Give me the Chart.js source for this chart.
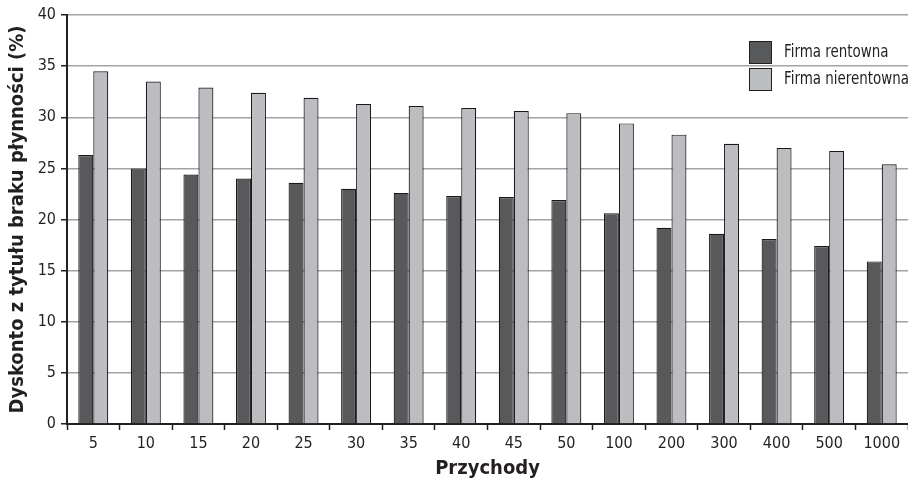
<!DOCTYPE html>
<html>
<head>
<meta charset="utf-8">
<script src="https://cdn.jsdelivr.net/npm/chart.js@4.4.1/dist/chart.umd.min.js"></script>
<style>
  html, body { margin: 0; padding: 0; background: #fff; }
  #wrap { width: 908px; height: 485px; }
</style>
</head>
<body>
<div id="wrap"><canvas id="myBarChart" width="908" height="485"></canvas></div>
<script>
var FONT = '"Liberation Sans Narrow", "DejaVu Sans Condensed", "Roboto Condensed", sans-serif';
Chart.defaults.font.family = FONT;
Chart.defaults.color = '#231f20';

// Dane
var revenueLabels = ["5", "10", "15", "20", "25", "30", "35", "40", "45", "50", "100", "200", "300", "400", "500", "1000"];
var profitableValues = [26.3, 25.0, 24.4, 24.0, 23.6, 23.0, 22.6, 22.3, 22.2, 21.9, 20.6, 19.2, 18.6, 18.1, 17.4, 15.9];
var unprofitableValues = [34.5, 33.5, 32.9, 32.4, 31.9, 31.3, 31.1, 30.9, 30.6, 30.4, 29.4, 28.3, 27.4, 27.0, 26.7, 25.4];
var seriesNames = ["Firma rentowna", "Firma nierentowna"];
var yTicks = [0, 5, 10, 15, 20, 25, 30, 35, 40];

// legenda rysowana wewnątrz obszaru wykresu (tekst lekko zwężony)
var boxLegend = {
  id: 'boxLegend',
  afterDraw: function(chart) {
    var c = chart.ctx;
    var x = 749, y = 41, size = 23, gap = 27;
    chart.data.datasets.forEach(function(ds, i) {
      c.save();
      c.fillStyle = ds.backgroundColor;
      c.strokeStyle = '#231f20';
      c.lineWidth = 1;
      c.fillRect(x, y + i * gap, size, size);
      c.strokeRect(x + 0.5, y + i * gap + 0.5, size - 1, size - 1);
      c.fillStyle = '#231f20';
      c.font = '18px ' + FONT;
      c.textBaseline = 'middle';
      c.translate(x + 35, y + i * gap + size / 2);
      c.scale(0.83, 1);
      c.fillText(ds.label, 0, 0);
      c.restore();
    });
  }
};

function initRevenueBarChart() {
  var ctx = document.getElementById("myBarChart");
  new Chart(ctx, {
    type: 'bar',
    data: {
      labels: revenueLabels,
      datasets: [{
        label: seriesNames[0],
        backgroundColor: "#58595b",
        borderColor: "#1a1a1a",
        borderWidth: 1.2,
        data: profitableValues
      }, {
        label: seriesNames[1],
        backgroundColor: "#bcbdc0",
        borderColor: "#1a1a1a",
        borderWidth: 1.2,
        data: unprofitableValues
      }]
    },
    options: {
      responsive: false,
      animation: false,
      layout: { padding: { top: 15, right: 0, left: 0, bottom: 0 } },
      datasets: { bar: { categoryPercentage: 0.57, barPercentage: 1.0 } },
      scales: {
        x: {
          afterFit: function(scale) { scale.height = 61; },
          grid: {
            display: true,
            drawOnChartArea: false,
            offset: true,
            tickLength: 6,
            tickColor: '#231f20',
            tickWidth: 1.5
          },
          border: { color: '#231f20', width: 2 },
          ticks: { font: { size: 16 }, padding: 4, maxRotation: 0, autoSkip: false },
          title: {
            display: true,
            text: 'Przychody',
            font: { size: 20, weight: 'bold' },
            padding: { top: 0, bottom: 4 }
          }
        },
        y: {
          min: 0,
          max: 40,
          afterFit: function(scale) { scale.width = 67; },
          afterBuildTicks: function(scale) {
            scale.ticks = yTicks.map(function(v) { return { value: v }; });
          },
          grid: {
            display: true,
            color: '#a3a3a3',
            lineWidth: 1.5,
            tickLength: 6,
            tickColor: '#231f20',
            tickWidth: 1.5
          },
          border: { color: '#231f20', width: 2 },
          ticks: { font: { size: 16 }, padding: 5 },
          title: {
            display: true,
            text: 'Dyskonto z tytułu braku płynności (%)',
            font: { size: 20, weight: 'bold' },
            padding: { top: 6, bottom: 0 }
          }
        }
      },
      plugins: {
        legend: { display: false },
        tooltip: { enabled: false }
      }
    },
    plugins: [boxLegend]
  });
}

initRevenueBarChart();
</script>
</body>
</html>
